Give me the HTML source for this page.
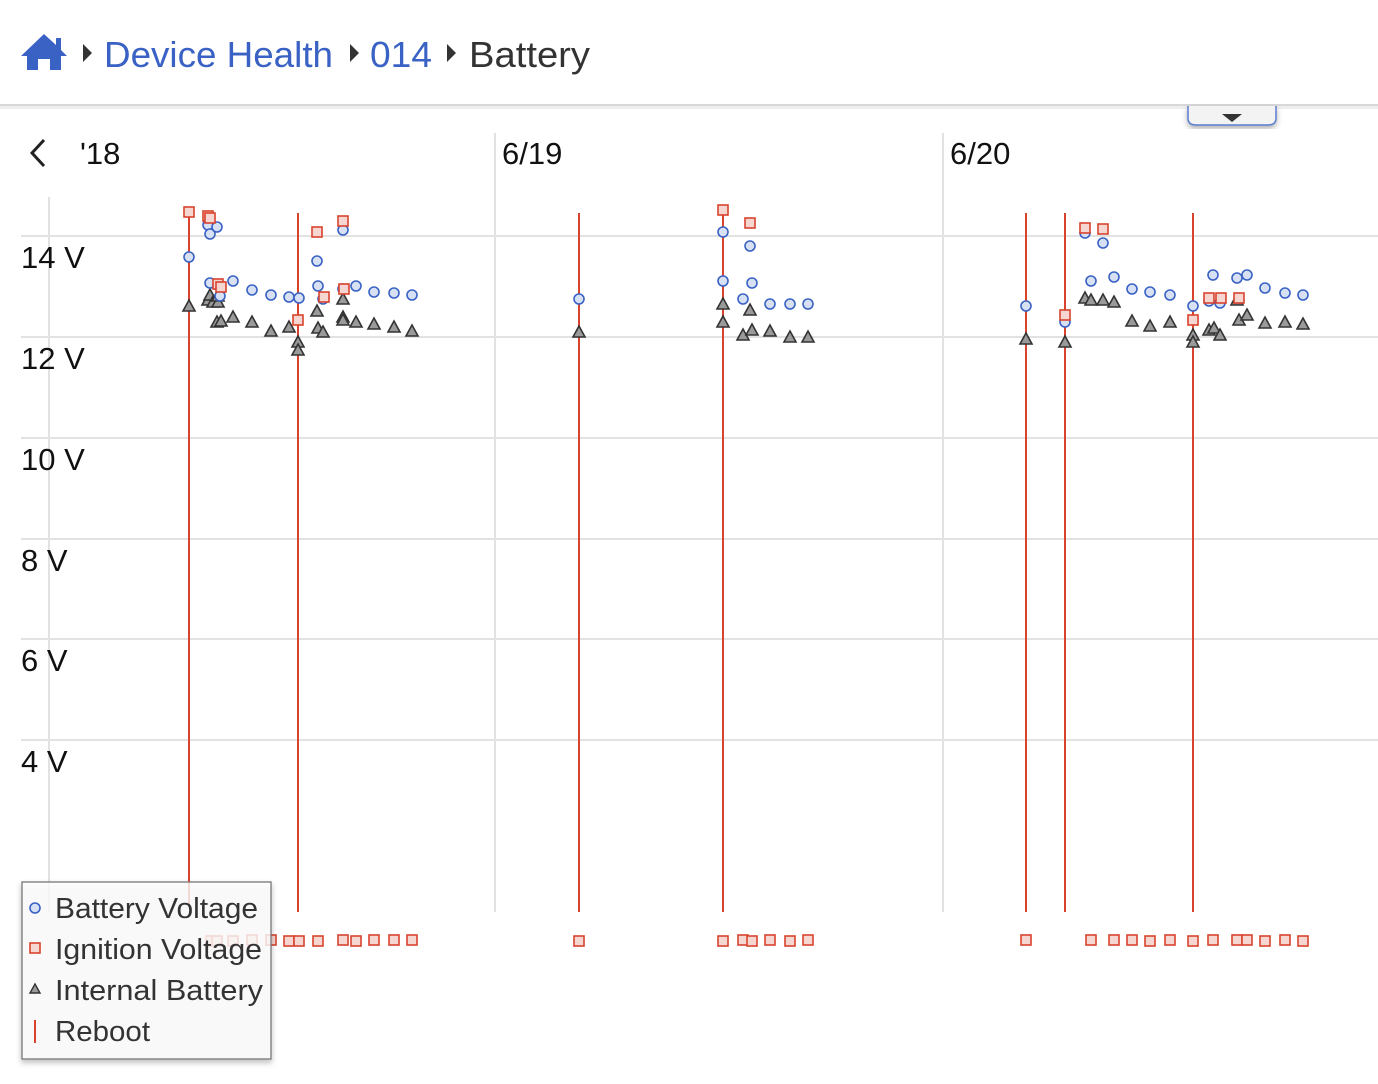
<!DOCTYPE html>
<html><head><meta charset="utf-8"><style>
html,body{margin:0;padding:0;background:#fff;width:1378px;height:1084px;overflow:hidden;font-family:"Liberation Sans",sans-serif}
svg{position:absolute;left:0;top:0}
</style></head><body>
<svg width="1378" height="1084" viewBox="0 0 1378 1084" xmlns="http://www.w3.org/2000/svg">
<defs>
<symbol id="c" overflow="visible"><circle cx="0" cy="0" r="5" fill="#d8e0f4" stroke="#3a62c4" stroke-width="1.6"/></symbol>
<symbol id="s" overflow="visible"><rect x="-5" y="-5" width="10" height="10" fill="#f6d6d0" stroke="#d9432d" stroke-width="1.6"/></symbol>
<symbol id="t" overflow="visible"><path d="M0,-6 L6,5 L-6,5Z" fill="#9a9a9a" stroke="#333" stroke-width="1.6"/></symbol>
<filter id="sh" x="-10%" y="-10%" width="130%" height="130%"><feDropShadow dx="0" dy="3" stdDeviation="3" flood-opacity="0.3"/></filter>
</defs>
<rect x="0" y="0" width="1378" height="105" fill="#fff"/>
<rect x="0" y="104" width="1378" height="2" fill="#d8d8d8"/>
<rect x="0" y="106" width="1378" height="3" fill="#eee"/>
<path d="M44,34 L21,56 L27,56 L27,70 L38,70 L38,59 L50,59 L50,70 L61,70 L61,56 L67,56 L61,50 L61,38 L56,38 L56,45Z" fill="#3a62c4"/>
<path d="M83,44 L92,53 L83,62Z" fill="#333"/>
<text x="104" y="67" font-size="36" fill="#3a62c4" textLength="229" lengthAdjust="spacingAndGlyphs">Device Health</text>
<path d="M350,44 L359,53 L350,62Z" fill="#333"/>
<text x="370" y="67" font-size="36" fill="#3a62c4" textLength="62" lengthAdjust="spacingAndGlyphs">014</text>
<path d="M447,44 L456,53 L447,62Z" fill="#333"/>
<text x="469" y="67" font-size="36" fill="#333" textLength="121" lengthAdjust="spacingAndGlyphs">Battery</text>
<path d="M1188,106 L1188,118 Q1188,125 1196,125 L1268,125 Q1276,125 1276,118 L1276,106" fill="#f3f3f3" stroke="#5a7bd0" stroke-width="1.5" filter="url(#sh)"/>
<path d="M1222,114 L1242,114 L1232,122Z" fill="#333"/>
<g stroke="#e2e2e2" stroke-width="2">
<line x1="21" y1="236" x2="1378" y2="236"/><line x1="21" y1="337" x2="1378" y2="337"/>
<line x1="21" y1="438" x2="1378" y2="438"/><line x1="21" y1="539" x2="1378" y2="539"/>
<line x1="21" y1="639" x2="1378" y2="639"/><line x1="21" y1="740" x2="1378" y2="740"/>
<line x1="49" y1="197" x2="49" y2="912"/>
<line x1="495" y1="133" x2="495" y2="912"/><line x1="943" y1="133" x2="943" y2="912"/>
</g>
<g font-size="31" fill="#111">
<text x="21" y="268">14 V</text><text x="21" y="369">12 V</text><text x="21" y="470">10 V</text>
<text x="21" y="571">8 V</text><text x="21" y="671">6 V</text><text x="21" y="772">4 V</text>
<text x="80" y="164">ʹ18</text><text x="502" y="164">6/19</text><text x="950" y="164">6/20</text>
</g>
<path d="M44,140 L32,153 L44,166" fill="none" stroke="#222" stroke-width="3"/>
<g stroke="#d9432d" stroke-width="2">
<line x1="189" y1="212" x2="189" y2="905"/><line x1="298" y1="213" x2="298" y2="912"/>
<line x1="579" y1="213" x2="579" y2="912"/><line x1="723" y1="213" x2="723" y2="912"/>
<line x1="1026" y1="213" x2="1026" y2="912"/><line x1="1065" y1="213" x2="1065" y2="912"/>
<line x1="1193" y1="213" x2="1193" y2="912"/>
</g>
<g>
<use href="#t" x="189" y="306"/><use href="#t" x="208" y="300"/><use href="#t" x="210" y="295"/><use href="#t" x="213" y="302"/><use href="#t" x="218" y="302"/><use href="#t" x="218" y="296"/><use href="#t" x="217" y="322"/><use href="#t" x="221" y="321"/><use href="#t" x="233" y="317"/><use href="#t" x="252" y="322"/><use href="#t" x="271" y="331"/><use href="#t" x="289" y="327"/><use href="#t" x="298" y="342"/><use href="#t" x="298" y="350"/><use href="#t" x="317" y="311"/><use href="#t" x="318" y="328"/><use href="#t" x="323" y="332"/><use href="#t" x="343" y="317"/><use href="#t" x="343" y="320"/><use href="#t" x="343" y="299"/><use href="#t" x="356" y="322"/><use href="#t" x="374" y="324"/><use href="#t" x="394" y="327"/><use href="#t" x="412" y="331"/>
<use href="#t" x="579" y="332"/><use href="#t" x="723" y="304"/><use href="#t" x="723" y="322"/><use href="#t" x="750" y="310"/><use href="#t" x="743" y="335"/><use href="#t" x="752" y="330"/><use href="#t" x="770" y="331"/><use href="#t" x="790" y="337"/><use href="#t" x="808" y="337"/>
<use href="#t" x="1026" y="339"/><use href="#t" x="1065" y="342"/><use href="#t" x="1085" y="298"/><use href="#t" x="1091" y="300"/><use href="#t" x="1103" y="300"/><use href="#t" x="1114" y="302"/><use href="#t" x="1132" y="321"/><use href="#t" x="1150" y="326"/><use href="#t" x="1170" y="322"/><use href="#t" x="1193" y="335"/><use href="#t" x="1193" y="342"/><use href="#t" x="1209" y="330"/><use href="#t" x="1214" y="328"/><use href="#t" x="1220" y="335"/><use href="#t" x="1239" y="320"/><use href="#t" x="1247" y="315"/><use href="#t" x="1265" y="323"/><use href="#t" x="1285" y="322"/><use href="#t" x="1303" y="324"/><use href="#t" x="1237" y="300"/>
</g>
<g>
<use href="#c" x="189" y="257"/><use href="#c" x="208" y="225"/><use href="#c" x="210" y="234"/><use href="#c" x="217" y="227"/><use href="#c" x="210" y="283"/><use href="#c" x="218" y="285"/><use href="#c" x="220" y="296"/><use href="#c" x="233" y="281"/><use href="#c" x="252" y="290"/><use href="#c" x="271" y="295"/><use href="#c" x="289" y="297"/><use href="#c" x="299" y="298"/><use href="#c" x="317" y="261"/><use href="#c" x="318" y="286"/><use href="#c" x="323" y="299"/><use href="#c" x="343" y="230"/><use href="#c" x="343" y="289"/><use href="#c" x="356" y="286"/><use href="#c" x="374" y="292"/><use href="#c" x="394" y="293"/><use href="#c" x="412" y="295"/>
<use href="#c" x="579" y="299"/><use href="#c" x="723" y="232"/><use href="#c" x="750" y="246"/><use href="#c" x="723" y="281"/><use href="#c" x="752" y="283"/><use href="#c" x="743" y="299"/><use href="#c" x="770" y="304"/><use href="#c" x="790" y="304"/><use href="#c" x="808" y="304"/>
<use href="#c" x="1026" y="306"/><use href="#c" x="1065" y="322"/><use href="#c" x="1085" y="233"/><use href="#c" x="1103" y="243"/><use href="#c" x="1091" y="281"/><use href="#c" x="1114" y="277"/><use href="#c" x="1132" y="289"/><use href="#c" x="1150" y="292"/><use href="#c" x="1170" y="295"/><use href="#c" x="1193" y="306"/><use href="#c" x="1209" y="301"/><use href="#c" x="1220" y="303"/><use href="#c" x="1213" y="275"/><use href="#c" x="1237" y="278"/><use href="#c" x="1247" y="275"/><use href="#c" x="1265" y="288"/><use href="#c" x="1285" y="293"/><use href="#c" x="1303" y="295"/>
</g>
<g>
<use href="#s" x="189" y="212"/><use href="#s" x="208" y="216"/><use href="#s" x="210" y="218"/><use href="#s" x="218" y="284"/><use href="#s" x="221" y="287"/><use href="#s" x="298" y="320"/><use href="#s" x="317" y="232"/><use href="#s" x="324" y="297"/><use href="#s" x="343" y="221"/><use href="#s" x="344" y="289"/>
<use href="#s" x="211" y="941"/><use href="#s" x="217" y="941"/><use href="#s" x="233" y="941"/><use href="#s" x="252" y="940"/><use href="#s" x="271" y="940"/><use href="#s" x="289" y="941"/><use href="#s" x="299" y="941"/><use href="#s" x="318" y="941"/><use href="#s" x="343" y="940"/><use href="#s" x="356" y="941"/><use href="#s" x="374" y="940"/><use href="#s" x="394" y="940"/><use href="#s" x="412" y="940"/>
<use href="#s" x="723" y="210"/><use href="#s" x="750" y="223"/>
<use href="#s" x="579" y="941"/><use href="#s" x="723" y="941"/><use href="#s" x="743" y="940"/><use href="#s" x="752" y="941"/><use href="#s" x="770" y="940"/><use href="#s" x="790" y="941"/><use href="#s" x="808" y="940"/>
<use href="#s" x="1065" y="315"/><use href="#s" x="1085" y="228"/><use href="#s" x="1103" y="229"/><use href="#s" x="1193" y="320"/><use href="#s" x="1209" y="298"/><use href="#s" x="1221" y="298"/><use href="#s" x="1239" y="298"/>
<use href="#s" x="1026" y="940"/><use href="#s" x="1091" y="940"/><use href="#s" x="1114" y="940"/><use href="#s" x="1132" y="940"/><use href="#s" x="1150" y="941"/><use href="#s" x="1170" y="940"/><use href="#s" x="1193" y="941"/><use href="#s" x="1213" y="940"/><use href="#s" x="1237" y="940"/><use href="#s" x="1247" y="940"/><use href="#s" x="1265" y="941"/><use href="#s" x="1285" y="940"/><use href="#s" x="1303" y="941"/>
</g>
<rect x="22" y="882" width="249" height="177" fill="#fff" fill-opacity="0.78" stroke="#777" stroke-width="1.3" filter="url(#sh)"/>
<use href="#c" x="35" y="908"/>
<rect x="30" y="943" width="10" height="10" fill="#f6d6d0" stroke="#d9432d" stroke-width="1.6"/>
<path d="M35,984 L40,993 L30,993Z" fill="#9a9a9a" stroke="#333" stroke-width="1.4"/>
<line x1="35" y1="1020" x2="35" y2="1043" stroke="#d9432d" stroke-width="2"/>
<g font-size="29" fill="#333">
<text x="55" y="918" textLength="203" lengthAdjust="spacingAndGlyphs">Battery Voltage</text>
<text x="55" y="959" textLength="207" lengthAdjust="spacingAndGlyphs">Ignition Voltage</text>
<text x="55" y="1000" textLength="208" lengthAdjust="spacingAndGlyphs">Internal Battery</text>
<text x="55" y="1041" textLength="95" lengthAdjust="spacingAndGlyphs">Reboot</text>
</g>
</svg>
</body></html>
